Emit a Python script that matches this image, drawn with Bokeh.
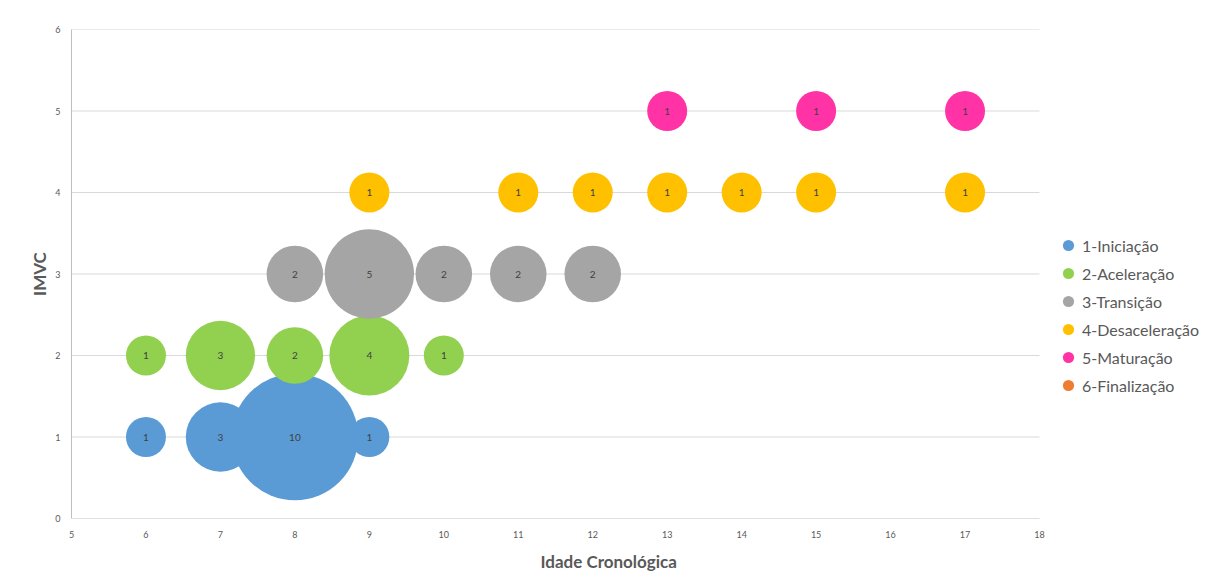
import math
from bokeh.plotting import figure
from bokeh.models import ColumnDataSource, Range1d, FixedTicker, Legend, LegendItem, Title
from bokeh.core.properties import value
from bokeh.embed import file_html
from bokeh.resources import INLINE

series_names = ["1-Iniciação", "2-Aceleração", "3-Transição", "4-Desaceleração", "5-Maturação", "6-Finalização"]
series_colors = ["#5B9BD5", "#92D050", "#A5A5A5", "#FFC000", "#FF33A6", "#ED7D31"]

iniciacao_x = [6, 7, 8, 9]
iniciacao_y = [1, 1, 1, 1]
iniciacao_n = [1, 3, 10, 1]

aceleracao_x = [6, 7, 8, 9, 10]
aceleracao_y = [2, 2, 2, 2, 2]
aceleracao_n = [1, 3, 2, 4, 1]

transicao_x = [8, 9, 10, 11, 12]
transicao_y = [3, 3, 3, 3, 3]
transicao_n = [2, 5, 2, 2, 2]

desaceleracao_x = [9, 11, 12, 13, 14, 15, 17]
desaceleracao_y = [4, 4, 4, 4, 4, 4, 4]
desaceleracao_n = [1, 1, 1, 1, 1, 1, 1]

maturacao_x = [13, 15, 17]
maturacao_y = [5, 5, 5]
maturacao_n = [1, 1, 1]

finalizacao_x = []
finalizacao_y = []
finalizacao_n = []

x_ticks = list(range(5, 19))
y_ticks = list(range(0, 7))

all_series = [
    (iniciacao_x, iniciacao_y, iniciacao_n),
    (aceleracao_x, aceleracao_y, aceleracao_n),
    (transicao_x, transicao_y, transicao_n),
    (desaceleracao_x, desaceleracao_y, desaceleracao_n),
    (maturacao_x, maturacao_y, maturacao_n),
    (finalizacao_x, finalizacao_y, finalizacao_n),
]

BUBBLE_SCALE = 40  # diameter in px for count 1 (area proportional to count)

X_MIN, X_MAX = x_ticks[0], x_ticks[-1]
Y_MIN, Y_MAX = y_ticks[0], y_ticks[-1]
FRAME_LEFT, AXIS_RIGHT, PAGE_W = 71, 1039, 1207
px_per_unit = (AXIS_RIGHT - FRAME_LEFT) / (X_MAX - X_MIN)
x_end = X_MIN + (PAGE_W - FRAME_LEFT) / px_per_unit   # leave room for legend at right

p = figure(width=PAGE_W, height=579, output_backend="svg", toolbar_location=None,
           x_range=Range1d(X_MIN, x_end), y_range=Range1d(Y_MIN, Y_MAX),
           min_border_left=FRAME_LEFT, min_border_right=0, min_border_top=29, min_border_bottom=61)
p.background_fill_color = "white"
p.border_fill_color = "white"
p.outline_line_color = None

p.xgrid.grid_line_color = None
p.ygrid.grid_line_color = None

# horizontal gridlines limited to the x-axis extent
p.segment(x0=[X_MIN] * (len(y_ticks) - 1), x1=[X_MAX] * (len(y_ticks) - 1),
          y0=y_ticks[1:], y1=y_ticks[1:], line_color="#D9D9D9", line_width=1)
# x-axis line
p.segment(x0=[X_MIN], x1=[X_MAX], y0=[Y_MIN], y1=[Y_MIN], line_color="#BFBFBF", line_width=1)

for ax in (p.xaxis[0], p.yaxis[0]):
    ax.axis_line_color = "#BFBFBF"
    ax.major_tick_line_color = None
    ax.minor_tick_line_color = None
    ax.major_label_text_font = "Lato"
    ax.major_label_text_font_size = "9px"
    ax.major_label_text_color = "#595959"
    ax.axis_label_text_font = "Lato"
    ax.axis_label_text_font_style = "bold"
    ax.axis_label_text_font_size = "17px"
    ax.axis_label_text_color = "#595959"

p.xaxis.axis_line_color = None
p.xaxis.ticker = FixedTicker(ticks=x_ticks)
p.yaxis.ticker = FixedTicker(ticks=y_ticks)
p.yaxis.axis_label = "IMVC"
p.xaxis.major_label_standoff = 6
p.yaxis.major_label_standoff = 5
p.yaxis.axis_label_standoff = 2

xtitle = Title(text="Idade Cronológica", align="left", offset=469,
               text_font="Lato", text_font_style="bold", text_font_size="17px",
               text_color="#595959", standoff=16)
p.add_layout(xtitle, "below")

items = []
for (xs, ys, ns), name, color in zip(all_series, series_names, series_colors):
    src = ColumnDataSource(dict(x=xs, y=ys, n=ns,
                                size=[BUBBLE_SCALE * math.sqrt(v) for v in ns]))
    p.scatter("x", "y", size="size", source=src, fill_color=color,
              line_color=None, fill_alpha=1.0)
    # legend-only swatch (one non-drawn NaN point so the legend has a row to draw)
    lr = p.scatter(x=[float("nan")], y=[float("nan")], size=11, fill_color=color, line_color=None)
    items.append(LegendItem(label=name, renderers=[lr]))

for (xs, ys, ns), name, color in zip(all_series, series_names, series_colors):
    src = ColumnDataSource(dict(x=xs, y=ys, label=[str(v) for v in ns]))
    p.text("x", "y", text="label", source=src, text_align="center", text_baseline="middle",
           text_font=value("Lato"), text_font_size="10px", text_color="#404040")

legend = Legend(items=items, location=(983, 119))
legend.glyph_width = 28
legend.glyph_height = 28
legend.label_standoff = 0
legend.spacing = 0
legend.padding = 0
legend.margin = 0
legend.border_line_color = None
legend.background_fill_alpha = 0
legend.label_text_font = "Lato"
legend.label_text_font_size = "16px"
legend.label_text_color = "#595959"
legend.label_height = 28
p.add_layout(legend)

open("out.html", "w").write(file_html(p, INLINE))
